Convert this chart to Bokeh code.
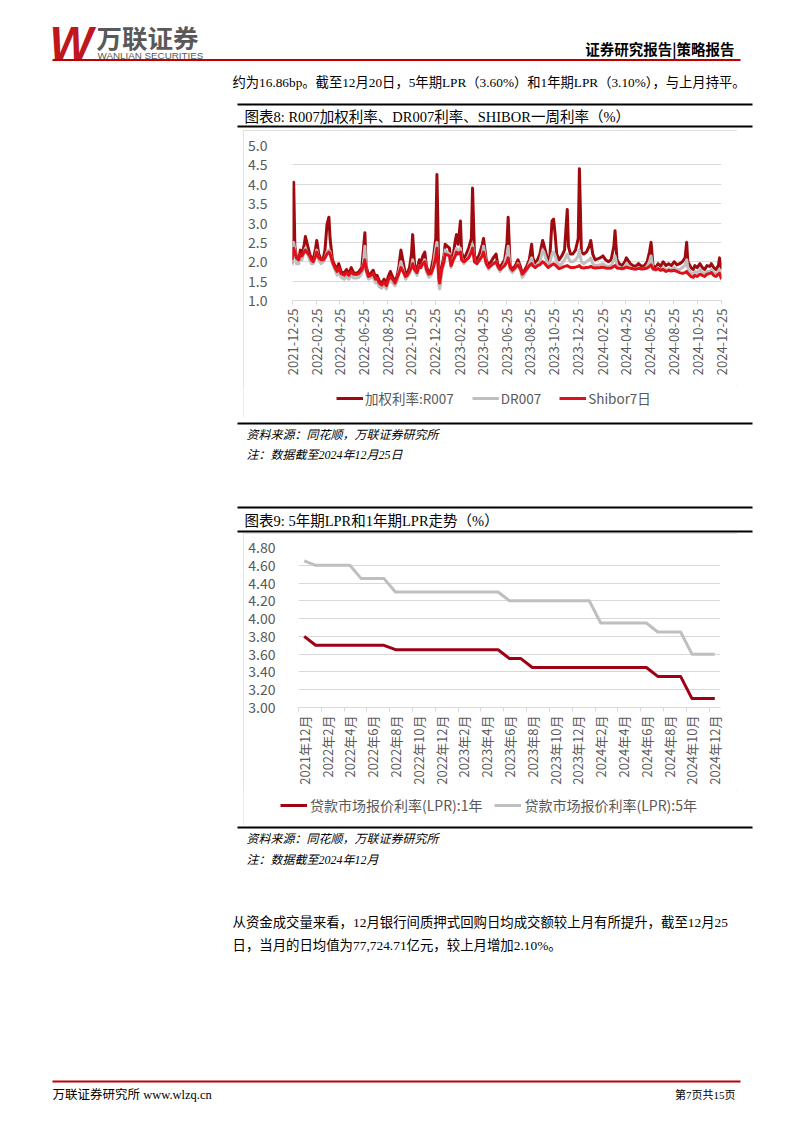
import math
import pandas as pd
from bokeh.plotting import figure
from bokeh.models import Range1d, FixedTicker, PrintfTickFormatter, Legend, LegendItem, Spacer
from bokeh.layouts import column, row
from bokeh.embed import file_html
from bokeh.resources import INLINE
from bokeh.core.properties import value

# ---------------- Chart 8 data: R007 / DR007 / Shibor 7D (%) ----------------
rate_dates = (
    ["2021-12-24", "2021-12-28", "2021-12-31"]
    + ["2022-01-04", "2022-01-10", "2022-01-14", "2022-01-18", "2022-01-24", "2022-01-27", "2022-02-07", "2022-02-11", "2022-02-16",
       "2022-02-22", "2022-02-25", "2022-03-02", "2022-03-08", "2022-03-14", "2022-03-18", "2022-03-23", "2022-03-28", "2022-03-31"]
    + ["2022-04-06", "2022-04-12", "2022-04-18", "2022-04-22", "2022-04-28", "2022-05-06", "2022-05-12", "2022-05-18", "2022-05-24",
       "2022-05-30", "2022-06-06", "2022-06-13", "2022-06-20", "2022-06-24", "2022-06-28"]
    + ["2022-07-01", "2022-07-07", "2022-07-13", "2022-07-19", "2022-07-25", "2022-07-29", "2022-08-04", "2022-08-10", "2022-08-16",
       "2022-08-22", "2022-08-26", "2022-09-01", "2022-09-07", "2022-09-13", "2022-09-19", "2022-09-23", "2022-09-28"]
    + ["2022-10-10", "2022-10-14", "2022-10-20", "2022-10-25", "2022-10-28", "2022-11-02", "2022-11-08", "2022-11-14", "2022-11-18",
       "2022-11-23", "2022-11-28", "2022-12-02", "2022-12-08", "2022-12-14", "2022-12-20", "2022-12-26", "2022-12-29"]
    + ["2023-01-03", "2023-01-05", "2023-01-10", "2023-01-16", "2023-01-19", "2023-01-30", "2023-02-03", "2023-02-09", "2023-02-14",
       "2023-02-17", "2023-02-21", "2023-02-27", "2023-03-02", "2023-03-08", "2023-03-14", "2023-03-20", "2023-03-27", "2023-03-30"]
    + ["2023-04-04", "2023-04-10", "2023-04-17", "2023-04-24", "2023-04-27", "2023-05-04", "2023-05-10", "2023-05-16", "2023-05-22",
       "2023-05-29", "2023-06-02", "2023-06-08", "2023-06-14", "2023-06-20", "2023-06-26", "2023-06-29"]
    + ["2023-07-04", "2023-07-10", "2023-07-17", "2023-07-24", "2023-07-31", "2023-08-04", "2023-08-10", "2023-08-16", "2023-08-22",
       "2023-08-28", "2023-08-31", "2023-09-06", "2023-09-12", "2023-09-18", "2023-09-25", "2023-09-28"]
    + ["2023-10-09", "2023-10-13", "2023-10-19", "2023-10-23", "2023-10-27", "2023-10-31", "2023-11-06", "2023-11-13", "2023-11-20",
       "2023-11-27", "2023-11-30", "2023-12-05", "2023-12-11", "2023-12-18", "2023-12-25", "2023-12-28"]
    + ["2024-01-02", "2024-01-08", "2024-01-15", "2024-01-22", "2024-01-26", "2024-01-31", "2024-02-06", "2024-02-19", "2024-02-26",
       "2024-03-04", "2024-03-11", "2024-03-18", "2024-03-25", "2024-03-28"]
    + ["2024-04-02", "2024-04-08", "2024-04-15", "2024-04-22", "2024-04-26", "2024-05-06", "2024-05-13", "2024-05-20", "2024-05-27",
       "2024-06-03", "2024-06-11", "2024-06-18", "2024-06-24", "2024-06-28"]
    + ["2024-07-03", "2024-07-10", "2024-07-16", "2024-07-22", "2024-07-29", "2024-08-05", "2024-08-12", "2024-08-19", "2024-08-26",
       "2024-09-02", "2024-09-09", "2024-09-16", "2024-09-23", "2024-09-27", "2024-09-30"]
    + ["2024-10-08", "2024-10-14", "2024-10-18", "2024-10-24", "2024-10-31", "2024-11-06", "2024-11-12", "2024-11-18", "2024-11-25",
       "2024-11-29", "2024-12-05", "2024-12-11", "2024-12-17", "2024-12-20", "2024-12-25"]
)

r007 = (
    [1.95, 4.05, 2.40]
    + [2.10, 2.05, 2.30, 2.15, 2.45, 2.65, 2.20, 2.10, 2.05, 2.35, 2.55, 2.20, 2.05, 2.10, 2.30, 2.95, 3.15, 2.60]
    + [2.05, 1.90, 1.80, 1.95, 1.75, 1.70, 1.80, 1.68, 1.85, 1.72, 1.70, 1.75, 1.85, 2.30, 2.75]
    + [1.90, 1.65, 1.70, 1.78, 1.60, 1.65, 1.50, 1.45, 1.55, 1.42, 1.60, 1.75, 1.60, 1.50, 1.65, 1.90, 2.30]
    + [1.65, 1.70, 1.85, 2.20, 2.70, 1.90, 1.80, 2.05, 1.95, 2.15, 2.25, 1.90, 1.70, 1.80, 2.10, 2.60, 4.25]
    + [1.60, 1.38, 1.85, 2.15, 2.45, 2.35, 1.95, 2.20, 2.55, 2.70, 2.45, 3.05, 2.25, 2.05, 2.20, 2.35, 2.60, 3.90]
    + [2.15, 2.05, 2.20, 2.45, 2.60, 2.05, 1.90, 2.00, 2.10, 2.20, 1.95, 1.85, 1.95, 2.05, 2.50, 3.15]
    + [1.90, 1.80, 1.90, 2.05, 1.85, 1.70, 1.78, 1.90, 2.05, 2.45, 2.10, 1.95, 2.05, 2.20, 2.55, 2.45]
    + [2.00, 2.05, 3.05, 3.10, 2.70, 2.20, 2.05, 2.15, 2.30, 3.35, 2.40, 2.20, 2.20, 2.30, 2.60, 4.40]
    + [2.25, 2.20, 2.25, 2.40, 2.55, 2.20, 2.05, 2.10, 2.15, 2.05, 2.00, 2.05, 2.40, 2.80]
    + [2.05, 1.95, 1.90, 2.00, 2.10, 1.95, 1.90, 1.88, 1.95, 1.88, 1.90, 2.00, 2.25, 2.50]
    + [1.90, 1.85, 1.95, 1.88, 2.00, 1.90, 1.95, 1.90, 2.00, 1.92, 1.95, 2.00, 2.10, 2.50, 2.00]
    + [1.85, 1.80, 1.90, 1.85, 1.95, 1.85, 1.80, 1.90, 1.88, 1.95, 1.85, 1.80, 1.90, 2.10, 1.80]
)

dr007 = (
    [1.90, 2.50, 2.30]
    + [1.95, 1.95, 2.15, 2.05, 2.25, 2.35, 2.05, 1.95, 1.95, 2.15, 2.30, 2.05, 1.95, 2.00, 2.10, 2.25, 2.30, 2.25]
    + [1.95, 1.80, 1.65, 1.75, 1.60, 1.55, 1.62, 1.55, 1.65, 1.58, 1.58, 1.60, 1.70, 1.95, 2.40]
    + [1.75, 1.55, 1.58, 1.62, 1.45, 1.50, 1.35, 1.32, 1.40, 1.30, 1.45, 1.55, 1.45, 1.38, 1.52, 1.75, 2.00]
    + [1.55, 1.60, 1.70, 1.85, 2.05, 1.75, 1.65, 1.90, 1.85, 1.95, 2.05, 1.75, 1.60, 1.65, 1.90, 2.35, 2.50]
    + [1.40, 1.30, 1.70, 2.00, 2.30, 2.20, 1.85, 2.05, 2.25, 2.35, 2.25, 2.35, 2.10, 1.95, 2.05, 2.15, 2.35, 2.45]
    + [2.00, 1.95, 2.05, 2.20, 2.40, 1.95, 1.80, 1.90, 1.95, 2.00, 1.85, 1.75, 1.85, 1.95, 2.20, 2.40]
    + [1.80, 1.72, 1.82, 1.95, 1.75, 1.60, 1.68, 1.80, 1.95, 2.10, 1.95, 1.85, 1.95, 2.00, 2.30, 2.25]
    + [1.90, 1.95, 2.20, 2.25, 2.15, 2.00, 1.90, 1.95, 2.05, 2.20, 2.10, 2.00, 2.00, 2.05, 2.15, 2.30]
    + [2.00, 1.95, 2.00, 2.05, 2.10, 1.95, 1.90, 1.92, 1.95, 1.90, 1.88, 1.90, 2.05, 2.15]
    + [1.90, 1.85, 1.82, 1.88, 1.95, 1.85, 1.82, 1.80, 1.85, 1.80, 1.82, 1.88, 2.00, 2.15]
    + [1.80, 1.78, 1.85, 1.78, 1.85, 1.78, 1.82, 1.80, 1.85, 1.80, 1.80, 1.85, 1.90, 2.05, 1.85]
    + [1.70, 1.68, 1.75, 1.72, 1.80, 1.72, 1.70, 1.75, 1.75, 1.80, 1.72, 1.70, 1.75, 1.80, 1.65]
)

shibor7d = (
    [2.05, 2.35, 2.25]
    + [2.10, 2.05, 2.20, 2.15, 2.25, 2.30, 2.15, 2.05, 2.00, 2.15, 2.25, 2.10, 2.05, 2.05, 2.10, 2.20, 2.25, 2.20]
    + [2.00, 1.85, 1.75, 1.85, 1.70, 1.65, 1.72, 1.65, 1.75, 1.68, 1.67, 1.70, 1.78, 1.90, 2.05]
    + [1.80, 1.62, 1.65, 1.70, 1.55, 1.58, 1.45, 1.40, 1.48, 1.38, 1.52, 1.62, 1.55, 1.45, 1.60, 1.70, 1.85]
    + [1.62, 1.65, 1.75, 1.85, 1.95, 1.80, 1.72, 1.90, 1.85, 1.95, 2.00, 1.80, 1.68, 1.70, 1.85, 2.10, 2.35]
    + [1.55, 1.45, 1.80, 2.00, 2.20, 2.15, 1.90, 2.05, 2.15, 2.25, 2.20, 2.25, 2.05, 2.00, 2.05, 2.10, 2.25, 2.35]
    + [2.00, 1.95, 2.05, 2.15, 2.25, 1.95, 1.85, 1.90, 1.95, 2.00, 1.90, 1.80, 1.85, 1.90, 2.00, 2.10]
    + [1.85, 1.78, 1.85, 1.92, 1.80, 1.68, 1.75, 1.82, 1.90, 1.95, 1.90, 1.85, 1.90, 1.92, 2.00, 1.98]
    + [1.85, 1.88, 1.92, 1.95, 1.92, 1.88, 1.82, 1.85, 1.88, 1.90, 1.88, 1.85, 1.85, 1.86, 1.88, 1.90]
    + [1.85, 1.84, 1.85, 1.86, 1.88, 1.85, 1.84, 1.85, 1.86, 1.84, 1.83, 1.84, 1.88, 1.90]
    + [1.84, 1.83, 1.82, 1.84, 1.86, 1.83, 1.82, 1.81, 1.83, 1.82, 1.82, 1.84, 1.88, 1.92]
    + [1.82, 1.80, 1.82, 1.78, 1.80, 1.75, 1.78, 1.76, 1.78, 1.75, 1.72, 1.70, 1.72, 1.75, 1.70]
    + [1.62, 1.60, 1.65, 1.62, 1.68, 1.65, 1.62, 1.68, 1.70, 1.72, 1.65, 1.62, 1.68, 1.70, 1.55]
)

rate_tick_labels = ["2021-12-25", "2022-02-25", "2022-04-25", "2022-06-25", "2022-08-25", "2022-10-25", "2022-12-25",
                    "2023-02-25", "2023-04-25", "2023-06-25", "2023-08-25", "2023-10-25", "2023-12-25", "2024-02-25",
                    "2024-04-25", "2024-06-25", "2024-08-25", "2024-10-25", "2024-12-25"]
rate_series_names = ["加权利率:R007", "DR007", "Shibor7日"]

# ---------------- Chart 9 data: LPR (%) monthly, 2021-12 .. 2024-12 ----------------
lpr_1y = [3.80, 3.70, 3.70, 3.70, 3.70, 3.70, 3.70, 3.70, 3.65, 3.65, 3.65, 3.65, 3.65, 3.65, 3.65, 3.65, 3.65, 3.65,
          3.55, 3.55, 3.45, 3.45, 3.45, 3.45, 3.45, 3.45, 3.45, 3.45, 3.45, 3.45, 3.45, 3.35, 3.35, 3.35, 3.10, 3.10, 3.10]
lpr_5y = [4.65, 4.60, 4.60, 4.60, 4.60, 4.45, 4.45, 4.45, 4.30, 4.30, 4.30, 4.30, 4.30, 4.30, 4.30, 4.30, 4.30, 4.30,
          4.20, 4.20, 4.20, 4.20, 4.20, 4.20, 4.20, 4.20, 3.95, 3.95, 3.95, 3.95, 3.95, 3.85, 3.85, 3.85, 3.60, 3.60, 3.60]
lpr_tick_labels = ["2021年12月", "2022年2月", "2022年4月", "2022年6月", "2022年8月", "2022年10月", "2022年12月",
                   "2023年2月", "2023年4月", "2023年6月", "2023年8月", "2023年10月", "2023年12月", "2024年2月",
                   "2024年4月", "2024年6月", "2024年8月", "2024年10月", "2024年12月"]
lpr_series_names = ["贷款市场报价利率(LPR):1年", "贷款市场报价利率(LPR):5年"]

assert len(rate_dates) == len(r007) == len(dr007) == len(shibor7d)
assert len(lpr_1y) == len(lpr_5y) == 37

# ---------------- styling ----------------
CJK = "Noto Sans CJK SC"
SERIF = "'Liberation Serif', 'Noto Sans CJK SC'"
GRID = "#D9D9D9"
LABEL = "#595959"
DARK_RED = "#9E0A0E"
RED = "#E0101A"
GRAY = "#BFBFBF"
LPR_RED = "#A00014"
PAGE_W = 802
BOX_W = 494
BOX_STYLE = {"outline": "1px solid #D9D9D9", "outline-offset": "-1px"}
NAN = float("nan")


def page(y0, y1):
    f = figure(width=PAGE_W, height=y1 - y0, x_range=Range1d(0, PAGE_W), y_range=Range1d(y1, y0),
               output_backend="svg", toolbar_location=None, min_border=0,
               x_axis_type=None, y_axis_type=None)
    f.grid.visible = False
    f.outline_line_color = None
    return f


def txt(f, x, y, s, size, color="#000000", font=SERIF, style="normal", align="left"):
    f.text(x=[x], y=[y], text=[s], text_font=value(font), text_font_size=f"{size}px",
           text_color=color, text_font_style=style, text_align=align, text_baseline="middle")


def hline(f, x0, x1, y, w, c):
    f.line(x=[x0, x1], y=[y, y], line_width=w, line_color=c)


def legend_strip(height, names, colors, lw, loc, font_size, spacing, standoff):
    # a strip under the chart that only carries the chart's legend
    f = figure(width=BOX_W, height=height, x_range=Range1d(0, 1), y_range=Range1d(0, 1),
               output_backend="svg", toolbar_location=None, min_border=0,
               x_axis_type=None, y_axis_type=None)
    f.grid.visible = False
    f.outline_line_color = None
    rs = [f.line(x=[NAN], y=[NAN], line_color=c, line_width=lw) for c in colors]
    leg = Legend(items=[LegendItem(label=n, renderers=[r]) for n, r in zip(names, rs)],
                 orientation="horizontal", location=loc, margin=0, padding=0, spacing=spacing,
                 glyph_width=27, glyph_height=20, label_standoff=standoff, border_line_color=None,
                 background_fill_alpha=0, label_text_font=CJK, label_text_font_size=font_size,
                 label_text_color=LABEL)
    f.add_layout(leg)
    return f


def style_axes(p, y_standoff):
    p.outline_line_color = None
    p.xgrid.visible = False
    p.ygrid.grid_line_color = GRID
    p.yaxis.axis_line_color = None
    p.yaxis.major_tick_line_color = None
    p.yaxis.minor_tick_line_color = None
    p.yaxis.major_label_standoff = y_standoff
    p.xaxis.major_label_orientation = math.pi / 2
    p.xaxis.axis_line_color = GRID
    p.xaxis.major_tick_in = 0
    p.xaxis.major_tick_out = 4
    p.xaxis.major_label_standoff = 4
    for ax in (p.xaxis, p.yaxis):
        ax.major_label_text_font = CJK
        ax.major_label_text_color = LABEL
    p.xaxis.major_label_text_font_size = "13px"
    p.yaxis.major_label_text_font_size = "14px"


# ---------------- Section A: header, paragraph, chart 8 title ----------------
pa = page(0, 130)
txt(pa, 49, 42, "W", 46, color="#C0161E", font="Liberation Sans", style="bold italic")
txt(pa, 96, 36, "万联证券", 25.5, color="#595959", font=CJK, style="bold")
txt(pa, 97, 54.5, "WANLIAN SECURITIES", 9.8, color="#595959", font="Liberation Sans")
txt(pa, 734, 48, "证券研究报告|策略报告", 14.5, font=CJK, style="bold", align="right")
hline(pa, 52, 740, 59.5, 2, "#C00000")
txt(pa, 232, 82, "约为16.86bp。截至12月20日，5年期LPR（3.60%）和1年期LPR（3.10%），与上月持平。", 13.3)
hline(pa, 237, 752, 104, 2, "#000000")
txt(pa, 244, 116, "图表8: R007加权利率、DR007利率、SHIBOR一周利率（%）", 14.5)
hline(pa, 237, 752, 126, 2, "#000000")

# ---------------- Chart 8 ----------------
start = pd.Timestamp("2021-12-25")
rate_x = [(pd.Timestamp(d) - start).days for d in rate_dates]
rate_ticks = [(pd.Timestamp(d) - start).days for d in rate_tick_labels]

p1 = figure(frame_width=429, frame_height=155, x_range=Range1d(0, rate_ticks[-1]), y_range=Range1d(1.0, 5.0),
            output_backend="svg", toolbar_location=None,
            min_border_left=49, min_border_right=16, min_border_top=15, min_border_bottom=85)
style_axes(p1, 19)
p1.yaxis.ticker = FixedTicker(ticks=[1.0, 1.5, 2.0, 2.5, 3.0, 3.5, 4.0, 4.5, 5.0])
p1.yaxis.formatter = PrintfTickFormatter(format="%.1f")
p1.xaxis.ticker = FixedTicker(ticks=rate_ticks, minor_ticks=[])
p1.xaxis.major_label_overrides = {t: s for t, s in zip(rate_ticks, rate_tick_labels)}
p1.xaxis.major_tick_line_color = GRID

p1.line(rate_x, r007, line_color=DARK_RED, line_width=3, line_join="round")
p1.line(rate_x, dr007, line_color=GRAY, line_width=3, line_join="round")
p1.line(rate_x, shibor7d, line_color=RED, line_width=3, line_join="round")
leg1 = legend_strip(33, rate_series_names, [DARK_RED, GRAY, RED], 3, (93, 10), "13.5px", 18, 2)
box1 = column(p1, row(leg1), styles=BOX_STYLE)

# ---------------- Section C: notes for chart 8, chart 9 title ----------------
pc = page(418, 533)
hline(pc, 237, 752, 423, 2, "#000000")
txt(pc, 246, 434, "资料来源：同花顺，万联证券研究所", 12, style="italic")
txt(pc, 246, 454, "注：数据截至2024年12月25日", 12, style="italic")
hline(pc, 237, 752, 507, 2, "#000000")
txt(pc, 244, 520, "图表9: 5年期LPR和1年期LPR走势（%）", 14.5)
hline(pc, 237, 752, 531, 2, "#000000")

# ---------------- Chart 9 ----------------
lpr_x = list(range(len(lpr_1y)))
lpr_ticks = lpr_x[::2]
p2 = figure(frame_width=422, frame_height=160, x_range=Range1d(-0.5, len(lpr_1y) - 0.5), y_range=Range1d(3.0, 4.8),
            output_backend="svg", toolbar_location=None,
            min_border_left=55, min_border_right=17, min_border_top=14, min_border_bottom=83)
style_axes(p2, 17)
p2.yaxis.ticker = FixedTicker(ticks=[3.0, 3.2, 3.4, 3.6, 3.8, 4.0, 4.2, 4.4, 4.6, 4.8])
p2.yaxis.formatter = PrintfTickFormatter(format="%.2f")
p2.xaxis.ticker = FixedTicker(ticks=lpr_ticks, minor_ticks=[t - 0.5 for t in lpr_ticks])
p2.xaxis.major_label_overrides = {t: s for t, s in zip(lpr_ticks, lpr_tick_labels)}
p2.xaxis.major_tick_line_color = None
p2.xaxis.minor_tick_line_color = GRID
p2.xaxis.minor_tick_in = 0
p2.xaxis.minor_tick_out = 4

p2.line(lpr_x, lpr_1y, line_color=LPR_RED, line_width=3, line_join="round")
p2.line(lpr_x, lpr_5y, line_color=GRAY, line_width=3, line_join="round")
leg2 = legend_strip(35, lpr_series_names, [LPR_RED, GRAY], 3, (37, 10), "14px", 12, 3)
box2 = column(p2, row(leg2), styles=BOX_STYLE)

# ---------------- Section E: notes for chart 9, paragraph, footer ----------------
pe = page(825, 1133)
hline(pe, 237, 752, 827, 2, "#000000")
txt(pe, 246, 838, "资料来源：同花顺，万联证券研究所", 12, style="italic")
txt(pe, 246, 859, "注：数据截至2024年12月", 12, style="italic")
txt(pe, 232, 922, "从资金成交量来看，12月银行间质押式回购日均成交额较上月有所提升，截至12月25", 13.4)
txt(pe, 232, 945, "日，当月的日均值为77,724.71亿元，较上月增加2.10%。", 13.4)
hline(pe, 52, 740, 1081, 2, "#C00000")
txt(pe, 52, 1094, "万联证券研究所 www.wlzq.cn", 12.5)
txt(pe, 735, 1094, "第7页共15页", 11, align="right")

layout = column(
    pa,
    row(Spacer(width=243, height=288), box1, Spacer(width=65, height=288)),
    pc,
    row(Spacer(width=243, height=292), box2, Spacer(width=65, height=292)),
    pe,
)

open("out.html", "w").write(file_html(layout, INLINE, title="万联证券 策略报告"))
